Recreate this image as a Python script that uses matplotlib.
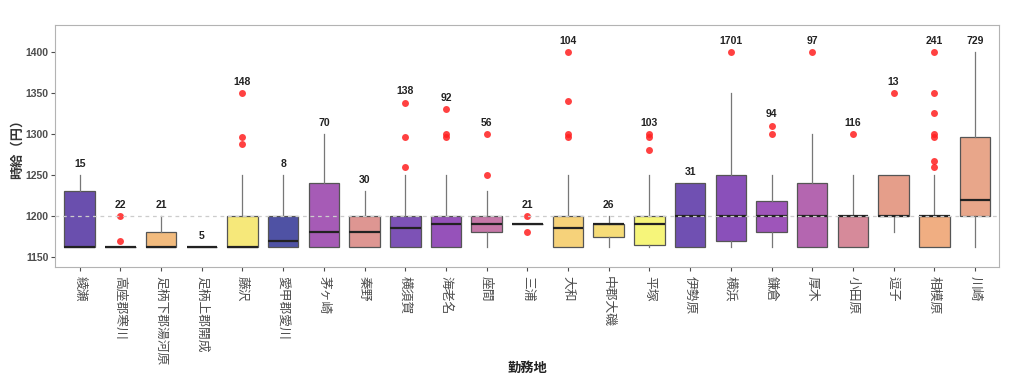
import matplotlib
matplotlib.use("Agg")
import matplotlib.pyplot as plt

plt.rcParams['font.family'] = ['Noto Sans CJK JP', 'DejaVu Sans']

# 勤務地ごとの時給の要約統計
locations = ['綾瀬', '高座郡寒川', '足柄下郡湯河原', '足柄上郡開成', '藤沢', '愛甲郡愛川',
             '茅ヶ崎', '秦野', '横須賀', '海老名', '座間', '三浦', '大和', '中郡大磯',
             '平塚', '伊勢原', '横浜', '鎌倉', '厚木', '小田原', '逗子', '相模原', '川崎']
counts = [15, 22, 21, 5, 148, 8, 70, 30, 138, 92, 56, 21, 104, 26, 103, 31,
          1701, 94, 97, 116, 13, 241, 729]
q1 = [1162, 1162, 1162, 1162, 1162, 1162, 1162, 1162, 1162, 1162, 1180, 1190,
      1162, 1175, 1165, 1162, 1170, 1180, 1162, 1162, 1200, 1162, 1200]
medians = [1162, 1162, 1162, 1162, 1162, 1170, 1180, 1180, 1185, 1190, 1190, 1190,
           1185, 1190, 1190, 1200, 1200, 1200, 1200, 1200, 1200, 1200, 1220]
q3 = [1230, 1162, 1180, 1162, 1200, 1200, 1240, 1200, 1200, 1200, 1200, 1190,
      1200, 1190, 1200, 1240, 1250, 1218, 1240, 1200, 1250, 1200, 1296]
whisk_lo = [1162, 1162, 1162, 1162, 1162, 1162, 1162, 1162, 1162, 1162, 1162, 1190,
            1162, 1162, 1162, 1162, 1162, 1162, 1162, 1162, 1180, 1162, 1162]
whisk_hi = [1250, 1162, 1200, 1162, 1250, 1250, 1300, 1230, 1250, 1250, 1230, 1190,
            1250, 1200, 1250, 1240, 1350, 1250, 1300, 1250, 1250, 1250, 1400]
outliers = [[], [1170, 1200], [], [], [1288, 1296, 1350], [], [], [],
            [1260, 1296, 1338], [1296, 1300, 1330], [1250, 1300], [1180, 1200],
            [1296, 1300, 1340, 1400], [], [1280, 1296, 1300], [], [1400],
            [1300, 1310], [1400], [1300], [1350],
            [1260, 1267, 1296, 1300, 1326, 1350, 1400], []]
box_colors = ['#6a4fae', '#f3b77c', '#f2bb7e', '#f2c07c', '#f6e87a', '#4f52a4',
              '#a65bb6', '#de9692', '#7d52b6', '#9652ba', '#c678a8', '#f5cf7a',
              '#f6d27a', '#f6dc78', '#f6f57a', '#7050b2', '#8a50ba', '#9e55ba',
              '#b466b0', '#d68a9a', '#e59e8a', '#f0ae82', '#e8a68a']

fig = plt.figure(figsize=(10.24, 3.78), dpi=100)
ax = fig.add_axes([0.054, 0.294, 0.922, 0.64])

stats = []
for i in range(len(locations)):
    stats.append(dict(q1=q1[i], med=medians[i], q3=q3[i], whislo=whisk_lo[i],
                      whishi=whisk_hi[i], fliers=outliers[i], label=locations[i]))

positions = list(range(1, len(locations) + 1))
bp = ax.bxp(stats, positions=positions, widths=0.75, patch_artist=True,
            showcaps=False,
            boxprops=dict(edgecolor='#555555', linewidth=0.9),
            medianprops=dict(color='#222222', linewidth=1.6),
            whiskerprops=dict(color='#777777', linewidth=0.9),
            flierprops=dict(marker='o', markerfacecolor='#ff2020', markeredgecolor='none',
                            markersize=5, alpha=0.85))
for patch, c in zip(bp['boxes'], box_colors):
    patch.set_facecolor(c)

ax.axhline(1200, color='#cccccc', linestyle=(0, (3, 3)), linewidth=0.9, zorder=5)

# 件数ラベル
for i in range(len(locations)):
    top = max([whisk_hi[i], q3[i]] + outliers[i])
    ax.text(positions[i], top + 14, str(counts[i]), ha='center', va='center',
            fontsize=7.5, fontweight='bold', color='#222222',
            family=['Liberation Sans', 'DejaVu Sans'])

ax.set_xlim(0.4, len(locations) + 0.6)
ax.set_ylim(1138, 1433)
ax.set_yticks([1150, 1200, 1250, 1300, 1350, 1400])
ax.set_xticks(positions)
ax.set_xticklabels(locations, rotation=-90, fontsize=9.2, color='#4d4d4d')
ax.tick_params(axis='y', colors='#4d4d4d', length=3, pad=2)
ax.tick_params(axis='x', colors='#4d4d4d', length=3)
for lab in ax.get_yticklabels():
    lab.set_fontweight('bold')
    lab.set_fontsize(7.5)
    lab.set_family(['Liberation Sans', 'DejaVu Sans'])
for s in ax.spines.values():
    s.set_color('#b3b3b3')

fig.text(0.515, 0.027, '勤務地', ha='center', va='center',
         fontsize=9.5, fontweight='bold', color='#222222')
ax.set_ylabel('時給（円）', fontsize=9.5, fontweight='bold', color='#333333')
ax.yaxis.set_label_coords(-0.033, 0.5)

fig.savefig('out.png', dpi=100)
